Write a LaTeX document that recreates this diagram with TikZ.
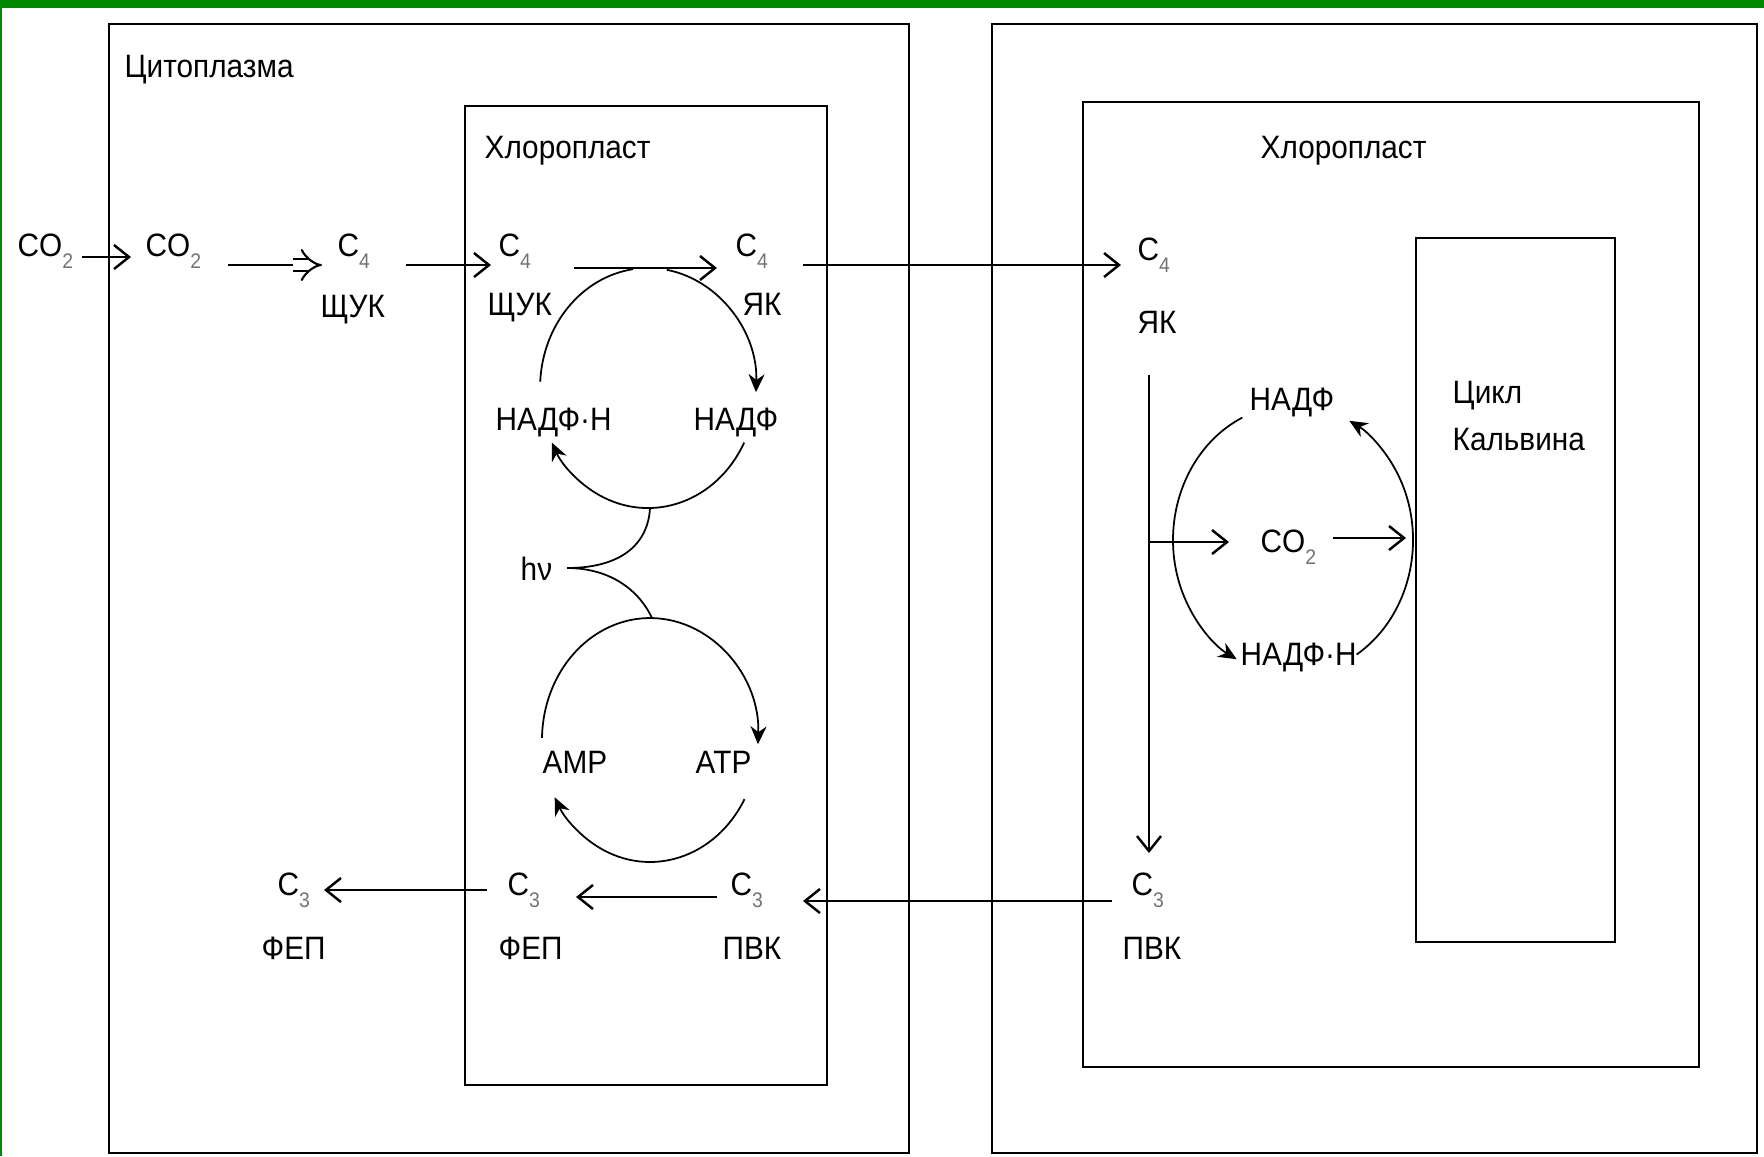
\documentclass[tikz,border=0pt]{standalone}
\usepackage{fontspec}
\setmainfont{Liberation Sans}[FakeStretch=0.92]
\usetikzlibrary{arrows.meta}
\definecolor{frame}{RGB}{0,136,0}
\newcommand\sbx[1]{\raisebox{-3.6pt}{\fontsize{6}{7}\selectfont\color{black!55}#1}}
\begin{document}
\begin{tikzpicture}[x=0.01cm,y=-0.01cm,
  lbl/.style={inner sep=0pt, anchor=base west, font=\fontsize{9.2}{10}\selectfont},
  box/.style={draw, line width=0.8pt},
  arr/.style={line width=0.7pt, -{Straight Barb[length=1.5mm,width=2.4mm]}},
  cyc/.style={line width=0.5pt},
  cyca/.style={line width=0.5pt, -{Stealth[length=1.8mm,width=1.6mm]}}]
\useasboundingbox (0,0) rectangle (1764,1156);
\fill[white] (0,0) rectangle (1764,1156);
\fill[frame] (0,0) rectangle (1764,8);
\fill[frame] (0,0) rectangle (2,1156);

% boxes
\draw[box] (109,24) rectangle (909,1153);
\draw[box] (465,106) rectangle (827,1085);
\draw[box] (992,24) rectangle (1757,1153);
\draw[box] (1083,102) rectangle (1699,1067);
\draw[box] (1416,238) rectangle (1615,942);

% labels
\node[lbl] (cyto) at (124,77) {Цитоплазма};
\node[lbl] (chl1) at (484,158) {Хлоропласт};
\node[lbl] (chl2) at (1260,158) {Хлоропласт};
\node[lbl] (co2a) at (17,256) {CO\sbx{2}};
\node[lbl] (co2b) at (145,256) {CO\sbx{2}};
\node[lbl] (c4a) at (337,256) {C\sbx{4}};
\node[lbl] (shk1) at (320,317) {ЩУК};
\node[lbl] (c4b) at (498,256) {C\sbx{4}};
\node[lbl] (shk2) at (487,315) {ЩУК};
\node[lbl] (c4c) at (735,256) {C\sbx{4}};
\node[lbl] (yak1) at (742,315) {ЯК};
\node[lbl] (c4d) at (1137,260) {C\sbx{4}};
\node[lbl] (yak2) at (1137,333) {ЯК};
\node[lbl] (nhh1) at (495,430) {НАДФ·Н};
\node[lbl] (nadf1) at (693,430) {НАДФ};
\node[lbl] (hv) at (520,580) {hν};
\node[lbl] (amp) at (542,773) {AMP};
\node[lbl] (atp) at (695,773) {ATP};
\node[lbl] (c3a) at (277,895) {C\sbx{3}};
\node[lbl] (fep1) at (261,959) {ФЕП};
\node[lbl] (c3b) at (507,895) {C\sbx{3}};
\node[lbl] (fep2) at (498,959) {ФЕП};
\node[lbl] (c3c) at (730,895) {C\sbx{3}};
\node[lbl] (pvk1) at (722,959) {ПВК};
\node[lbl] (c3d) at (1131,895) {C\sbx{3}};
\node[lbl] (pvk2) at (1122,959) {ПВК};
\node[lbl] (nadf2) at (1249,410) {НАДФ};
\node[lbl] (co2c) at (1260,552) {CO\sbx{2}};
\node[lbl] (nhh2) at (1240,665) {НАДФ·Н};
\node[lbl] (cikl) at (1452,403) {Цикл};
\node[lbl] (kalv) at (1452,450) {Кальвина};

% connector end points
\coordinate (a1s) at (82,257);   \coordinate (a1e) at (131,257);
\coordinate (a2s) at (228,265);  \coordinate (a2m) at (300,265); \coordinate (a2e) at (322,265);
\coordinate (a3s) at (406,265);  \coordinate (a3e) at (491,265);
\coordinate (a4s) at (574,268);  \coordinate (a4e) at (717,268);
\coordinate (a5s) at (803,265);  \coordinate (a5e) at (1121,265);
\coordinate (v1s) at (1149,375); \coordinate (v1e) at (1149,853);
\coordinate (v1m) at (1149,542); \coordinate (a7e) at (1229,542);
\coordinate (a8s) at (1333,538); \coordinate (a8e) at (1406,538);
\coordinate (b1s) at (1112,901); \coordinate (b1e) at (803,901);
\coordinate (b2s) at (717,897);  \coordinate (b2e) at (576,897);
\coordinate (b3s) at (487,890);  \coordinate (b3e) at (324,890);
\coordinate (hvr) at (567,568);
\coordinate (ucb) at (650,508);
\coordinate (lct) at (652,618);

% straight connectors
\draw[arr] (a1s) -- (a1e);
\draw[line width=0.7pt] (a2s) -- (a2m);
\draw[double, double distance=2.6pt, line width=0.6pt, -{Implies}] (293,265) -- (a2e);
\draw[arr] (a3s) -- (a3e);
\draw[arr] (a4s) -- (a4e);
\draw[arr] (a5s) -- (a5e);
\draw[arr] (v1s) -- (v1e);
\draw[arr] (v1m) -- (a7e);
\draw[arr] (a8s) -- (a8e);
\draw[arr] (b1s) -- (b1e);
\draw[arr] (b2s) -- (b2e);
\draw[arr] (b3s) -- (b3e);

% upper cycle (centre 648,388)
\draw[cyc] (540.2,381.7) arc[start angle=183, end angle=262, x radius=108, y radius=120];
\draw[cyca] (666.8,269.8) arc[start angle=280, end angle=362, x radius=108, y radius=120];
\draw[cyca] (744.2,442.5) arc[start angle=27, end angle=153, x radius=108, y radius=120];

% lower cycle (centre 650,740)
\draw[cyc] (542,737.9) arc[start angle=181, end angle=272, x radius=108, y radius=122];
\draw[cyca] (653.8,618.1) arc[start angle=272, end angle=362, x radius=108, y radius=122];
\draw[cyca] (744.5,799.1) arc[start angle=29, end angle=152, x radius=108, y radius=122];

% light links
\draw[cyc] (hvr) .. controls (620,568) and (648,545) .. (ucb);
\draw[cyc] (hvr) .. controls (612,568) and (640,592) .. (lct);

% right cycle (centre 1293,540)
\draw[cyca] (1242.3,417.6) arc[start angle=245, end angle=118, x radius=120, y radius=135];
\draw[cyca] (1356.6,654.5) arc[start angle=58, end angle=-62, x radius=120, y radius=135];
\end{tikzpicture}
\end{document}
